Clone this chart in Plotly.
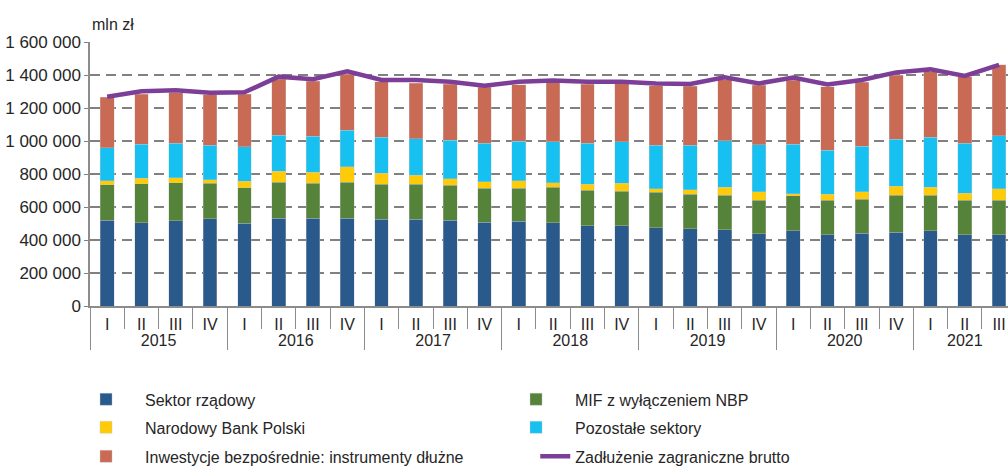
import plotly.graph_objects as go

# Kwartały 2015 I - 2021 III
years = ["2015"] * 4 + ["2016"] * 4 + ["2017"] * 4 + ["2018"] * 4 + ["2019"] * 4 + ["2020"] * 4 + ["2021"] * 3
quarters = ["I", "II", "III", "IV"] * 6 + ["I", "II", "III"]

# mln zł
sektor_rzadowy = [520000, 506000, 518000, 530000, 502000, 532000, 532000, 532000,
                  526000, 526000, 520000, 508000, 514000, 504000, 485000, 487000,
                  473000, 467000, 461000, 437000, 455000, 431000, 441000, 447000,
                  455000, 431000, 433000]
mif_bez_nbp = [215000, 234000, 228000, 213000, 215000, 217000, 211000, 218000,
               213000, 213000, 211000, 205000, 201000, 215000, 216000, 207000,
               215000, 210000, 210000, 204000, 213000, 209000, 207000, 224000,
               216000, 210000, 208000]
nbp = [24000, 34000, 30000, 22000, 40000, 68000, 68000, 93000,
       67000, 52000, 40000, 40000, 44000, 28000, 36000, 50000,
       24000, 28000, 50000, 52000, 12000, 36000, 44000, 56000,
       50000, 42000, 70000]
pozostale = [201000, 205000, 209000, 210000, 207000, 218000, 218000, 223000,
             218000, 222000, 234000, 234000, 240000, 250000, 250000, 252000,
             262000, 270000, 282000, 284000, 300000, 268000, 276000, 284000,
             302000, 302000, 320000]
inwestycje = [304000, 304000, 306000, 304000, 318000, 340000, 334000, 338000,
              336000, 336000, 340000, 338000, 342000, 357000, 358000, 352000,
              360000, 358000, 367000, 362000, 389000, 385000, 387000, 387000,
              397000, 405000, 431000]
zadluzenie = [1268000, 1301000, 1307000, 1292000, 1295000, 1390000, 1375000, 1422000,
              1370000, 1370000, 1359000, 1335000, 1359000, 1366000, 1359000, 1359000,
              1349000, 1345000, 1386000, 1349000, 1384000, 1343000, 1370000, 1416000,
              1434000, 1394000, 1462000]

x = [years, quarters]
font_family = "Liberation Sans Narrow, Arial Narrow, Liberation Sans, sans-serif"
text_color = "#262626"

fig = go.Figure()

# (nazwa, dane, kolor, legenda = wiersz legendy)
bars = [
    ("Sektor rządowy", sektor_rzadowy, "#2A598C", "legend"),
    ("MIF z wyłączeniem NBP", mif_bez_nbp, "#55833A", "legend"),
    ("Narodowy Bank Polski", nbp, "#FFCA08", "legend2"),
    ("Pozostałe sektory", pozostale, "#16C1F2", "legend2"),
    ("Inwestycje bezpośrednie: instrumenty dłużne", inwestycje, "#C96A54", "legend3"),
]
for name, values, color, leg in bars:
    fig.add_trace(go.Bar(
        x=x, y=values, name=name, legend=leg,
        marker=dict(color=color, line=dict(color="rgba(200,200,200,0.6)", width=0.6)),
    ))

fig.add_trace(go.Scatter(
    x=x, y=zadluzenie, name="Zadłużenie zagraniczne brutto", legend="legend4",
    mode="lines", line=dict(color="#7D3E97", width=4.5),
))

legend_common = dict(
    orientation="h",
    xref="container", x=0.0665, xanchor="left",
    yref="container", yanchor="top",
    entrywidth=347, entrywidthmode="pixels",
    itemwidth=68,
    traceorder="normal",
    font=dict(size=16, color=text_color),
    itemclick=False,
    bgcolor="rgba(0,0,0,0)",
)

fig.update_layout(
    barmode="stack",
    bargap=0.6,
    width=1008, height=468,
    margin=dict(l=90, r=0, t=42, b=162, autoexpand=False),
    plot_bgcolor="white",
    paper_bgcolor="white",
    separators=", ",
    font=dict(family=font_family, size=16, color=text_color),
    legend=dict(legend_common, y=0.183),
    legend2=dict(legend_common, y=0.123),
    legend3=dict(legend_common, y=0.061),
    # linia w legendzie krótsza – osobna legenda w drugiej kolumnie
    legend4=dict(legend_common, x=0.531, itemwidth=30, y=0.061),
    annotations=[dict(
        text="mln zł", xref="paper", yref="paper", x=0, y=1,
        xanchor="left", yanchor="bottom", yshift=7, showarrow=False,
        font=dict(size=16, color=text_color),
    )],
)

fig.update_yaxes(
    range=[0, 1600000], dtick=200000, tickformat=",d",
    tickfont=dict(size=17),
    showgrid=True, gridcolor="#808080", gridwidth=1.5, griddash="10px,6px",
    showline=True, linecolor="#8c8c8c", linewidth=1.5,
    ticks="outside", ticklen=4, tickcolor="#808080",
    zeroline=False, automargin=False,
)

fig.update_xaxes(
    type="multicategory",
    range=[-0.5, 26.26],
    tickfont=dict(size=16),
    ticklabelstandoff=3,
    showline=True, linecolor="#8c8c8c", linewidth=1.5,
    ticks="outside", ticklen=21, tickcolor="#8c8c8c", tickwidth=1.2,
    showdividers=True, dividercolor="#8c8c8c", dividerwidth=1.2,
    showgrid=False, automargin=False,
)

# bez domyślnego marginesu strony (8 px)
fig.write_html(
    "out.html",
    config={"displayModeBar": False},
    post_script="document.body.style.margin='0';",
)
